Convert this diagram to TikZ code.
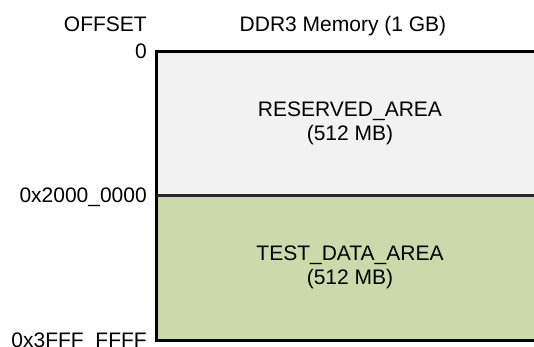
\documentclass[tikz,border=0pt]{standalone}
\usepackage{fontspec}
\setmainfont{Liberation Sans}
\definecolor{resgray}{RGB}{242,242,242}
\definecolor{testgreen}{RGB}{202,218,170}
\begin{document}
\begin{tikzpicture}[x=1pt,y=-1pt,
  txt/.style={font=\fontsize{21}{24}\selectfont, inner sep=0pt, text=black},
  area/.style={txt, draw=none, minimum width=386pt, minimum height=143pt, align=center},
  offs/.style={txt, anchor=base east},
  frame/.style={line width=3pt, draw=black}]
\useasboundingbox (0,0) rectangle (534,347);
\node[area, fill=resgray] (res) at (350,123.5) {RESERVED\_AREA\\(512 MB)};
\node[area, fill=testgreen, minimum height=145pt] (test) at (350,267.5) {TEST\_DATA\_AREA\\(512 MB)};
\draw[frame] (res.north west) rectangle (test.south east);
\draw[frame, draw=black!85] (res.south west) -- (res.south east);
\node[offs] (hoff) at (147,32) {OFFSET};
\node[txt, anchor=base] (hmem) at (343,32) {DDR3 Memory (1 GB)};
\node[offs] (o0) at (147,59) {0};
\node[offs] (o1) at (147,202.5) {0x2000\_0000};
\node[offs] (o2) at (147,347) {0x3FFF\_FFFF};
\end{tikzpicture}
\end{document}
